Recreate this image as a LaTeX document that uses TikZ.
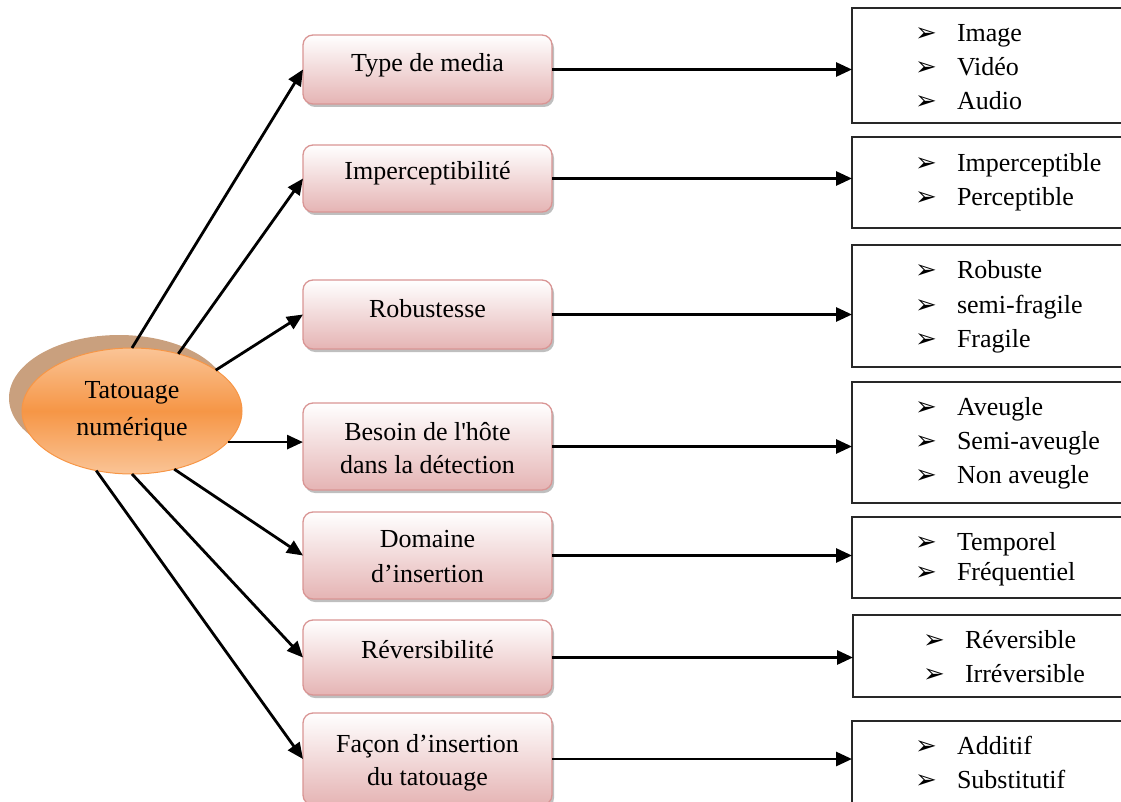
\documentclass[tikz,border=0pt]{standalone}
\usepackage{fontspec}
\setmainfont{Liberation Serif}
\newfontfamily\dejavu{DejaVu Sans}
\usetikzlibrary{arrows.meta,shapes.geometric,shadows}
\definecolor{pinkline}{RGB}{217,149,148}
\definecolor{pinkbot}{RGB}{229,180,180}
\definecolor{orgtop}{RGB}{250,196,150}
\definecolor{orgmid}{RGB}{246,150,70}
\definecolor{orgline}{RGB}{247,150,70}
\definecolor{tanshadow}{RGB}{201,160,126}
\definecolor{boxline}{RGB}{40,40,40}
\newcommand\bul{{\dejavu\fontsize{26}{26}\selectfont\raisebox{0pt}{➢}}}
\newcommand\bigtxt{\fontsize{26}{33}\selectfont}
\newcommand\myitem[4]{\node[itm] (#1) at (#2,#3) {\makebox[42pt][l]{\bul}#4};}
\begin{document}
\begin{tikzpicture}[x=1pt,y=-1pt]
\tikzset{
 every node/.style={font=\bigtxt, inner sep=0pt, outer sep=0pt},
 pinkbox/.style={rectangle, rounded corners=10pt, draw=pinkline, line width=1.3pt,
   top color=white, bottom color=pinkbot, minimum width=249pt,
   drop shadow={shadow xshift=2pt, shadow yshift=-3pt, fill=black, opacity=0.25}},
 listbox/.style={rectangle, draw=boxline, line width=1.6pt, fill=white, minimum width=272pt},
 lbl/.style={anchor=base},
 itm/.style={anchor=base west},
 arr/.style={line width=2.8pt, -{Triangle[length=16pt,width=14pt]}},
}
\useasboundingbox (0,0) rectangle (1121,802);

% central ellipse
\node[ellipse, minimum width=220pt, minimum height=126pt, fill=tanshadow] (es) at (119,398) {};
\node[ellipse, minimum width=220pt, minimum height=126pt, draw=orgline, line width=1pt,
  top color=orgtop, bottom color=orgtop, middle color=orgmid, align=center,
  font=\fontsize{26}{37}\selectfont] (ell) at (132,411) {Tatouage\\numérique};

% pink boxes
\node[pinkbox, minimum height=69pt] (b1) at (427.5,69.5) {};
\node[pinkbox, minimum height=67pt] (b2) at (427.5,178.5) {};
\node[pinkbox, minimum height=69pt] (b3) at (427.5,314.5) {};
\node[pinkbox, minimum height=87pt] (b4) at (427.5,446.5) {};
\node[pinkbox, minimum height=87pt] (b5) at (427.5,555.5) {};
\node[pinkbox, minimum height=75pt] (b6) at (427.5,657.5) {};
\node[pinkbox, minimum height=92pt] (b7) at (427.5,759) {};

\node[lbl] (t1) at (427.5,72) {Type de media};
\node[lbl] (t2) at (427.5,180) {Imperceptibilité};
\node[lbl] (t3) at (427.5,317) {Robustesse};
\node[lbl] (t4a) at (427.5,440) {Besoin de l\textquotesingle hôte};
\node[lbl] (t4b) at (427.5,473) {dans la détection};
\node[lbl] (t5a) at (427.5,547) {Domaine};
\node[lbl] (t5b) at (427.5,582) {d’insertion};
\node[lbl] (t6) at (427.5,658) {Réversibilité};
\node[lbl] (t7a) at (427.5,752) {Façon d’insertion};
\node[lbl] (t7b) at (427.5,785) {du tatouage};

% list boxes
\node[listbox, minimum height=115pt] (r1) at (988,65.5) {};
\node[listbox, minimum height=91pt] (r2) at (988,182.5) {};
\node[listbox, minimum height=122pt] (r3) at (988,306) {};
\node[listbox, minimum height=121pt] (r4) at (988,442.5) {};
\node[listbox, minimum height=81pt] (r5) at (988,557.5) {};
\node[listbox, minimum height=82pt] (r6) at (989,656) {};
\node[listbox, minimum height=109pt] (r7) at (988,775.5) {};

\myitem{i1a}{915}{42}{Image}
\myitem{i1b}{915}{76}{Vidéo}
\myitem{i1c}{915}{110}{Audio}
\myitem{i2a}{915}{172}{Imperceptible}
\myitem{i2b}{915}{206}{Perceptible}
\myitem{i3a}{915}{278}{Robuste}
\myitem{i3b}{915}{313}{semi-fragile}
\myitem{i3c}{915}{347}{Fragile}
\myitem{i4a}{915}{415}{Aveugle}
\myitem{i4b}{915}{449}{Semi-aveugle}
\myitem{i4c}{915}{483}{Non aveugle}
\myitem{i5a}{915}{550}{Temporel}
\myitem{i5b}{915}{580}{Fréquentiel}
\myitem{i6a}{923}{648}{Réversible}
\myitem{i6b}{923}{682}{Irréversible}
\myitem{i7a}{915}{754}{Additif}
\myitem{i7b}{915}{788}{Substitutif}

% arrows from ellipse
\draw[arr] (ell.90) -- (b1.west);
\draw[arr] (ell.51) -- (b2.west);
\draw[arr] (ell.26.6) -- (b3.west);
\draw[arr] (ell.-18.6) -- (ell.-18.6 -| b4.west);
\draw[arr] (ell.-54) -- (b5.west);
\draw[arr] (ell.-90) -- (b6.west);
\draw[arr] (ell.-121) -- (b7.west);

% arrows to lists
\draw[arr] (b1.east) -- (b1.east -| r1.west);
\draw[arr] (b2.east) -- (b2.east -| r2.west);
\draw[arr] (b3.east) -- (b3.east -| r3.west);
\draw[arr] (b4.east) -- (b4.east -| r4.west);
\draw[arr] (b5.east) -- (b5.east -| r5.west);
\draw[arr] (b6.east) -- (b6.east -| r6.west);
\draw[arr] (b7.east) -- (b7.east -| r7.west);
\end{tikzpicture}
\end{document}
